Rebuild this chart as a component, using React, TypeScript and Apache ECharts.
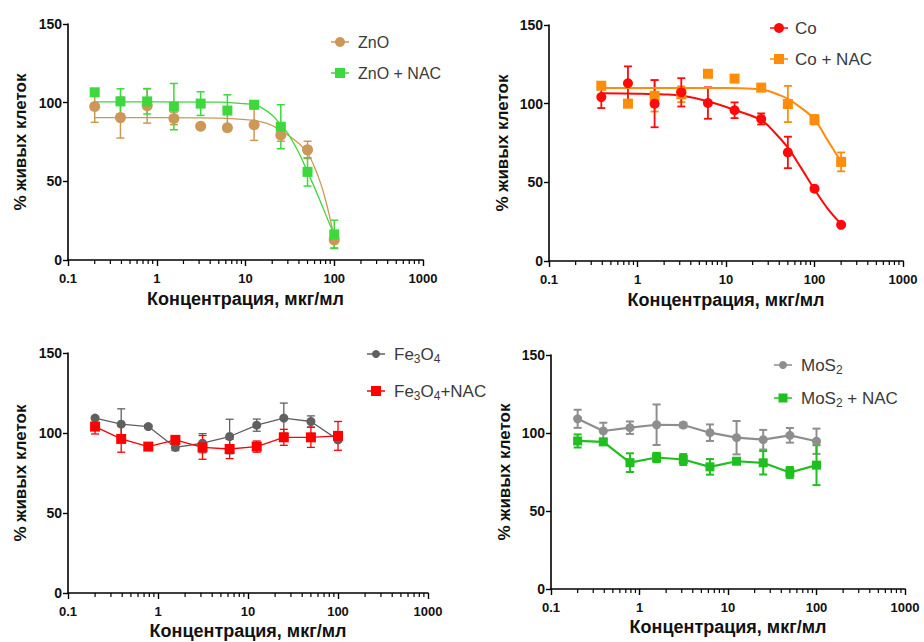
import React, { useEffect, useRef } from 'react';
import * as echarts from 'echarts';

// ---------- axis labels ----------
const xTickLabels = ['0.1', '1', '10', '100', '1000'];
const xAxisName = 'Концентрация, мкг/мл';
const yAxisName = '% живых клеток';
const minorTickValues = [
  0.2, 0.3, 0.4, 0.5, 0.6, 0.7, 0.8, 0.9,
  2, 3, 4, 5, 6, 7, 8, 9,
  20, 30, 40, 50, 60, 70, 80, 90,
  200, 300, 400, 500, 600, 700, 800, 900,
];

// ---------- panel 1: ZnO ----------
const concZnO = [0.2, 0.39, 0.78, 1.56, 3.125, 6.25, 12.5, 25, 50, 100];
const znoMean = [97.5, 90.5, 98, 90, 85, 84, 86, 79.5, 70, 12.7];
const znoErr = [10, 13, 11, 4, 1, 1, 10, 4, 5.5, 5];
const znoNacMean = [106.6, 100.8, 100.8, 97.5, 99.4, 95, 98.7, 84.7, 56, 16.3];
const znoNacErr = [2, 8, 8, 14.7, 7.5, 10, 2, 14, 9, 9];
const znoFitX = [0.2, 1, 5, 10, 15, 20, 25, 30, 40, 50, 60, 70, 80, 90, 100];
const znoFitY = [90.5, 90.5, 90.2, 89.2, 87.8, 85.5, 82, 79.5, 74, 68, 59, 49, 38, 26, 14];
const znoNacFitX = [0.2, 1, 5, 10, 12.5, 15, 20, 25, 30, 40, 50, 60, 70, 80, 90, 100];
const znoNacFitY = [100.5, 100.5, 100.3, 99.3, 98.7, 97, 92, 86, 80.5, 68, 56, 46, 37, 29, 22, 16];

// ---------- panel 2: Co ----------
const concCo = [0.39, 0.78, 1.56, 3.125, 6.25, 12.5, 25, 50, 100, 200];
const coMean = [104.2, 113, 100, 107.2, 100.4, 95.8, 90.3, 69, 46, 23];
const coErr = [7, 10.7, 15, 9, 10, 5, 3.5, 10, 1, 1];
const coNacMean = [111.4, 100, 105, 106, 119, 115.9, 110.2, 99.8, 89.8, 63];
const coNacErr = [2, 0.5, 10, 5, 0.5, 0.5, 2, 11.5, 3, 6];
const coFitX = [0.39, 1, 2, 3.125, 6.25, 12.5, 25, 35, 50, 70, 100, 140, 200];
const coFitY = [106.6, 106.3, 105.9, 105.2, 101.5, 96, 89.6, 82, 72, 59.5, 45.5, 33.5, 23.5];
const coNacFitX = [0.39, 10, 20, 30, 40, 50, 70, 100, 140, 200];
const coNacFitY = [110, 110, 109.5, 108, 105.5, 103, 97.5, 90, 77, 63];

// ---------- panel 3: Fe3O4 ----------
const concFe = [0.2, 0.39, 0.78, 1.56, 3.125, 6.25, 12.5, 25, 50, 100];
const feMean = [109.3, 105.5, 104, 91, 93.6, 97.8, 104.9, 109.3, 107.2, 95.7];
const feErr = [1, 9.6, 1, 2, 6, 10.8, 3.8, 9.4, 3.5, 1];
const feNacMean = [104, 96.3, 91.5, 95.7, 91, 90, 91.5, 97.3, 97.3, 98.2];
const feNacErr = [4.6, 8.3, 1, 1, 7.4, 6, 3.5, 5, 6.3, 9];

// ---------- panel 4: MoS2 ----------
const concMo = [0.2, 0.39, 0.78, 1.56, 3.125, 6.25, 12.5, 25, 50, 100];
const moMean = [109.1, 101.3, 103.4, 105.3, 105.1, 100.2, 97, 95.7, 98.5, 94.7];
const moErr = [5.8, 5.3, 4, 13, 1.5, 5.3, 10.7, 6.3, 4.7, 8.1];
const moNacMean = [94.9, 94.3, 81, 84.3, 83, 78.3, 81.9, 80.9, 74.7, 79.4];
const moNacErr = [4.2, 2, 6, 3, 3.5, 5, 1.5, 7.5, 3.5, 12.8];

// legend texts (rich-text markup for subscripts)
const legendTexts = [
  ['ZnO', 'ZnO + NAC'],
  ['Co', 'Co + NAC'],
  ['Fe{s|3}O{s|4}', 'Fe{s|3}O{s|4}+NAC'],
  ['MoS{s|2}', 'MoS{s|2} + NAC'],
];

const FONT = '"Liberation Sans", Arial, Helvetica, sans-serif';

const C = {
  zno: '#CB9858',
  znoNac: '#3DD83D',
  co: '#FF0A0A',
  coNac: '#FF8C0A',
  fe: '#606060',
  feNac: '#FF0000',
  mo: '#8E8E8E',
  moNac: '#1FBF1F',
};

const grids = [
  { left: 68, top: 24, width: 355, height: 236 },
  { left: 549, top: 25, width: 354, height: 236 },
  { left: 68, top: 353, width: 360, height: 240 },
  { left: 551, top: 355, width: 354, height: 234 },
];
const yNameGaps = [39, 38, 39, 38];
const xNameGaps = [30, 30, 29, 29];

function errorBars(g: number, xs: number[], mean: number[], err: number[], color: string, lw = 1.5) {
  return {
    type: 'custom',
    xAxisIndex: g,
    yAxisIndex: g,
    silent: true,
    z: 2,
    clip: false,
    encode: { x: 0, y: 1 },
    data: xs.map((v, i) => [v, mean[i], err[i]]),
    renderItem: (params: any, api: any) => {
      const x = api.value(0);
      const y = api.value(1);
      const e = api.value(2);
      const top = api.coord([x, y + e]);
      const bot = api.coord([x, y - e]);
      const half = 4;
      const st = { stroke: color, lineWidth: lw };
      return {
        type: 'group',
        children: [
          { type: 'line', shape: { x1: top[0], y1: top[1], x2: bot[0], y2: bot[1] }, style: st },
          { type: 'line', shape: { x1: top[0] - half, y1: top[1], x2: top[0] + half, y2: top[1] }, style: st },
          { type: 'line', shape: { x1: bot[0] - half, y1: bot[1], x2: bot[0] + half, y2: bot[1] }, style: st },
        ],
      };
    },
  };
}

function minorTicks(g: number) {
  return {
    type: 'custom',
    xAxisIndex: g,
    yAxisIndex: g,
    silent: true,
    clip: false,
    encode: { x: 0, y: 1 },
    data: minorTickValues.map((v) => [v, 0]),
    renderItem: (params: any, api: any) => {
      const p = api.coord([api.value(0), 0]);
      return {
        type: 'line',
        shape: { x1: p[0], y1: p[1], x2: p[0], y2: p[1] + 4 },
        style: { stroke: '#000', lineWidth: 1.2 },
      };
    },
  };
}

function points(g: number, xs: number[], ys: number[], color: string, symbol: string, size: number) {
  return {
    type: 'scatter',
    xAxisIndex: g,
    yAxisIndex: g,
    symbol,
    symbolSize: size,
    z: 4,
    itemStyle: { color, opacity: 1 },
    data: xs.map((v, i) => [v, ys[i]]),
  };
}

function fitCurve(g: number, xs: number[], ys: number[], color: string, lw: number) {
  return {
    type: 'line',
    xAxisIndex: g,
    yAxisIndex: g,
    showSymbol: false,
    symbol: 'none',
    smooth: 0.35,
    z: 3,
    lineStyle: { color, width: lw },
    data: xs.map((v, i) => [v, ys[i]]),
  };
}

function connected(g: number, xs: number[], ys: number[], color: string, symbol: string, size: number, lw: number) {
  return {
    type: 'line',
    xAxisIndex: g,
    yAxisIndex: g,
    symbol,
    symbolSize: size,
    showSymbol: true,
    z: 4,
    lineStyle: { color, width: lw },
    itemStyle: { color },
    data: xs.map((v, i) => [v, ys[i]]),
  };
}

function legendItem(cx: number, cy: number, color: string, symbol: string, size: number, textLeft: number, text: string, fontSize: number) {
  const marker =
    symbol === 'circle'
      ? { type: 'circle', shape: { cx, cy, r: size / 2 }, style: { fill: color } }
      : { type: 'rect', shape: { x: cx - size / 2, y: cy - size / 2, width: size, height: size }, style: { fill: color } };
  return [
    { type: 'line', shape: { x1: cx - 9, y1: cy, x2: cx + 9, y2: cy }, style: { stroke: color, lineWidth: 1.5 } },
    marker,
    {
      type: 'text',
      x: textLeft,
      y: cy,
      style: {
        text,
        fill: '#3a3a3a',
        fontSize,
        fontFamily: FONT,
        lineHeight: 22,
        verticalAlign: 'middle',
        align: 'left',
        rich: {
          s: {
            fontSize: Math.round(fontSize * 0.68),
            fontFamily: FONT,
            fill: '#3a3a3a',
            verticalAlign: 'bottom',
            lineHeight: 10,
          },
        },
      },
    },
  ];
}

export default function App() {
  const ref = useRef<HTMLDivElement>(null);
  useEffect(() => {
    if (!ref.current) return;
    const chart = echarts.init(ref.current, undefined, { renderer: 'svg' });

    const xAxes = grids.map((_, i) => ({
      type: 'log',
      logBase: 10,
      gridIndex: i,
      min: 0.1,
      max: 1000,
      name: xAxisName,
      nameLocation: 'middle',
      nameGap: xNameGaps[i],
      nameTextStyle: { fontSize: 18, fontWeight: 'bold', color: '#111', fontFamily: FONT },
      axisLine: { show: true, onZero: false, lineStyle: { color: '#000', width: 1.6 } },
      axisTick: { show: true, length: 6, lineStyle: { color: '#000', width: 1.4 } },
      axisLabel: {
        fontSize: 13,
        fontWeight: 'bold',
        color: '#111',
        fontFamily: FONT,
        margin: 12,
        formatter: (v: number) => xTickLabels[Math.round(Math.log10(v)) + 1] ?? '',
      },
      splitLine: { show: false },
      minorTick: { show: false },
    }));

    const yAxes = grids.map((_, i) => ({
      type: 'value',
      gridIndex: i,
      min: 0,
      max: 150,
      interval: 50,
      name: yAxisName,
      nameLocation: 'middle',
      nameGap: yNameGaps[i],
      nameRotate: 90,
      nameTextStyle: { fontSize: 17, fontWeight: 'bold', color: '#111', fontFamily: FONT },
      axisLine: { show: true, lineStyle: { color: '#000', width: 1.6 } },
      axisTick: { show: true, length: 5, lineStyle: { color: '#000', width: 1.4 } },
      axisLabel: { fontSize: 14, fontWeight: 'bold', color: '#111', fontFamily: FONT, margin: 6 },
      splitLine: { show: false },
    }));

    const series: any[] = [
      ...grids.map((_, i) => minorTicks(i)),
      // panel 1
      errorBars(0, concZnO, znoMean, znoErr, C.zno),
      errorBars(0, concZnO, znoNacMean, znoNacErr, C.znoNac),
      fitCurve(0, znoFitX, znoFitY, C.zno, 1.3),
      fitCurve(0, znoNacFitX, znoNacFitY, C.znoNac, 1.3),
      points(0, concZnO, znoMean, C.zno, 'circle', 11),
      points(0, concZnO, znoNacMean, C.znoNac, 'rect', 10),
      // panel 2
      errorBars(1, concCo, coNacMean, coNacErr, C.coNac, 1.8),
      errorBars(1, concCo, coMean, coErr, C.co, 1.8),
      fitCurve(1, coNacFitX, coNacFitY, C.coNac, 2),
      fitCurve(1, coFitX, coFitY, C.co, 2),
      points(1, concCo, coNacMean, C.coNac, 'rect', 10),
      points(1, concCo, coMean, C.co, 'circle', 10),
      // panel 3
      errorBars(2, concFe, feMean, feErr, C.fe, 1.3),
      errorBars(2, concFe, feNacMean, feNacErr, C.feNac, 1.3),
      connected(2, concFe, feMean, C.fe, 'circle', 9, 1.3),
      connected(2, concFe, feNacMean, C.feNac, 'rect', 10, 1.3),
      // panel 4
      errorBars(3, concMo, moMean, moErr, C.mo, 2),
      errorBars(3, concMo, moNacMean, moNacErr, C.moNac, 2),
      connected(3, concMo, moMean, C.mo, 'circle', 9, 2.2),
      connected(3, concMo, moNacMean, C.moNac, 'rect', 9, 2.2),
    ];

    const graphic = [
      ...legendItem(340, 42, C.zno, 'circle', 10, 358, legendTexts[0][0], 16),
      ...legendItem(340, 73, C.znoNac, 'rect', 10, 358, legendTexts[0][1], 16),
      ...legendItem(779, 28, C.co, 'circle', 10, 795, legendTexts[1][0], 17),
      ...legendItem(779, 59, C.coNac, 'rect', 10, 795, legendTexts[1][1], 17),
      ...legendItem(376, 354, C.fe, 'circle', 8, 394, legendTexts[2][0], 17),
      ...legendItem(376, 391, C.feNac, 'rect', 10, 394, legendTexts[2][1], 17),
      ...legendItem(783, 365, C.mo, 'circle', 8, 801, legendTexts[3][0], 17),
      ...legendItem(783, 398, C.moNac, 'rect', 9, 801, legendTexts[3][1], 17),
    ];

    chart.setOption({
      animation: false,
      backgroundColor: '#ffffff',
      grid: grids,
      xAxis: xAxes,
      yAxis: yAxes,
      series,
      graphic,
    });
    return () => chart.dispose();
  }, []);

  return (
    <div
      ref={ref}
      style={{ position: 'fixed', left: 0, top: 0, width: 924, height: 642, background: '#fff' }}
    />
  );
}
